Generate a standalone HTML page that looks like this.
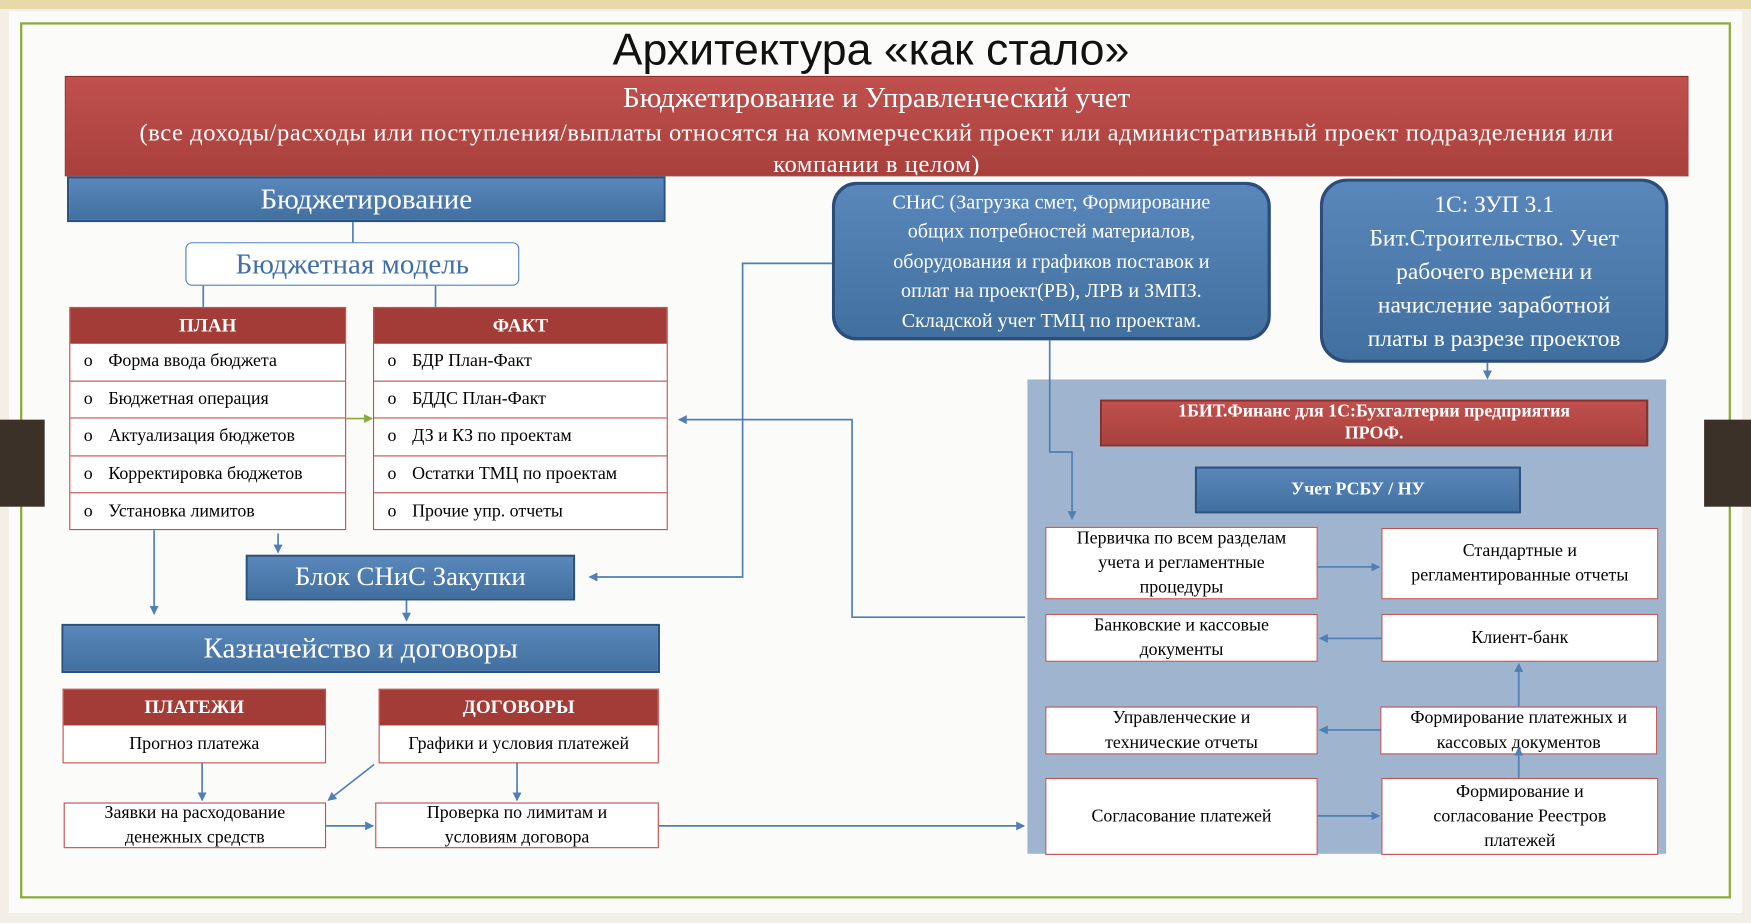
<!DOCTYPE html>
<html><head><meta charset="utf-8"><style>
html,body{margin:0;padding:0;width:1751px;height:923px;overflow:hidden;background:#f3efe6}
#w{position:absolute;left:0;top:0;width:1568px;height:827px;transform:scale(1.11671,1.11608);transform-origin:0 0;font-family:"Liberation Serif",serif}
.a{position:absolute;box-sizing:border-box}
.c{display:flex;align-items:center;justify-content:center;text-align:center}
.red{background:linear-gradient(#c0504d,#a9403c);color:#fff}
.blue{background:linear-gradient(#5a87bb,#41709f);border:2px solid #2c5282;color:#fff}
.tb{background:#fff;border:1.5px solid #c0504d}
.row{height:33.5px;border-bottom:1.5px solid #c0504d;display:flex;align-items:center;font-size:16px;padding-left:12px;box-sizing:border-box}
.row span{margin-right:14px}
.hd{background:#a33b37;color:#fff;font-weight:bold;font-size:17px;height:32px}
.wb{background:#fff;border:1.5px solid #c0504d;font-size:16px;line-height:22px}
</style></head><body><div id="w">
<div class="a" style="left:0;top:0;width:1568px;height:8px;background:#e8d9a8"></div>
<div class="a" style="left:8px;top:10px;width:1552px;height:808px;background:#fbfbfa"></div>
<div class="a" style="left:18px;top:20px;width:1532px;height:785px;border:2px solid #8aaa3a"></div>
<div class="a" style="left:0;top:376px;width:40px;height:78px;background:#3b3128"></div>
<div class="a" style="left:1526px;top:376px;width:42px;height:78px;background:#3b3128"></div>
<div class="a c" style="left:380px;top:20px;width:800px;height:50px;font-family:'Liberation Sans',sans-serif;font-size:40px;color:#111">Архитектура «как стало»</div>
<div class="a red" style="left:58px;top:68px;width:1454px;height:90px;border:1px solid #8e2f2b;text-align:center;overflow:hidden">
<div style="font-size:26px;margin-top:4px">Бюджетирование и Управленческий учет</div>
<div style="font-size:22px;line-height:28px;margin-top:2px;letter-spacing:0.5px;white-space:nowrap">(все доходы/расходы или поступления/выплаты относятся на коммерческий проект или административный проект подразделения или<br>компании в целом)</div></div>
<div class="a blue c" style="left:60px;top:158px;width:536px;height:41px;font-size:26px">Бюджетирование</div>
<div class="a c" style="left:166px;top:217px;width:299px;height:39px;border:1.5px solid #4f81bd;border-radius:6px;background:#fff;color:#3f6fa5;font-size:26px">Бюджетная модель</div>
<div class="a tb" style="left:62px;top:275px;width:248px;height:200px">
<div class="c hd">ПЛАН</div>
<div class="row"><span>o</span>Форма ввода бюджета</div>
<div class="row"><span>o</span>Бюджетная операция</div>
<div class="row"><span>o</span>Актуализация бюджетов</div>
<div class="row"><span>o</span>Корректировка бюджетов</div>
<div class="row" style="border:0"><span>o</span>Установка лимитов</div></div>
<div class="a tb" style="left:334px;top:275px;width:264px;height:200px">
<div class="c hd">ФАКТ</div>
<div class="row"><span>o</span>БДР План-Факт</div>
<div class="row"><span>o</span>БДДС План-Факт</div>
<div class="row"><span>o</span>ДЗ и КЗ по проектам</div>
<div class="row"><span>o</span>Остатки ТМЦ по проектам</div>
<div class="row" style="border:0"><span>o</span>Прочие упр. отчеты</div></div>
<div class="a blue c" style="left:745px;top:163px;width:393px;height:142px;border-radius:22px;border:3px solid #2c4d7a;font-size:18px;line-height:26.5px;padding:0 6px">СНиС (Загрузка смет, Формирование<br>общих потребностей материалов,<br>оборудования и графиков поставок и<br>оплат на проект(РВ), ЛРВ и ЗМПЗ.<br>Складской учет ТМЦ по проектам.</div>
<div class="a blue c" style="left:1182px;top:160px;width:312px;height:165px;border-radius:24px;border:3px solid #2c4d7a;font-size:21px;line-height:30px;padding:0 6px">1С: ЗУП 3.1<br>Бит.Строительство. Учет<br>рабочего времени и<br>начисление заработной<br>платы в разрезе проектов</div>
<div class="a" style="left:920px;top:340px;width:572px;height:425px;background:#9fb5cf"></div>
<div class="a red c" style="left:985px;top:358px;width:491px;height:42px;border:2px solid #8e2f2b;font-weight:bold;font-size:16px;line-height:20px">1БИТ.Финанс для 1С:Бухгалтерии предприятия<br>ПРОФ.</div>
<div class="a blue c" style="left:1070px;top:418px;width:292px;height:42px;font-weight:bold;font-size:16px">Учет РСБУ / НУ</div>
<div class="a wb c" style="left:936px;top:472px;width:244px;height:65px">Первичка по всем разделам<br>учета и регламентные<br>процедуры</div>
<div class="a wb c" style="left:1237px;top:473px;width:248px;height:64px">Стандартные и<br>регламентированные отчеты</div>
<div class="a wb c" style="left:936px;top:550px;width:244px;height:43px">Банковские и кассовые<br>документы</div>
<div class="a wb c" style="left:1237px;top:550px;width:248px;height:43px">Клиент-банк</div>
<div class="a wb c" style="left:936px;top:633px;width:244px;height:43px">Управленческие и<br>технические отчеты</div>
<div class="a wb c" style="left:1236px;top:633px;width:248px;height:43px">Формирование платежных и<br>кассовых документов</div>
<div class="a wb c" style="left:936px;top:697px;width:244px;height:69px">Согласование платежей</div>
<div class="a wb c" style="left:1237px;top:697px;width:248px;height:69px">Формирование и<br>согласование Реестров<br>платежей</div>
<div class="a blue c" style="left:220px;top:497px;width:295px;height:41px;font-size:24px">Блок СНиС Закупки</div>
<div class="a blue c" style="left:55px;top:559px;width:536px;height:44px;font-size:26px">Казначейство и договоры</div>
<div class="a tb" style="left:56px;top:617px;width:236px;height:67px"><div class="c hd">ПЛАТЕЖИ</div><div class="c" style="height:34px;font-size:16px">Прогноз платежа</div></div>
<div class="a tb" style="left:339px;top:617px;width:251px;height:67px"><div class="c hd">ДОГОВОРЫ</div><div class="c" style="height:34px;font-size:16px">Графики и условия платежей</div></div>
<div class="a wb c" style="left:57px;top:719px;width:235px;height:41px">Заявки на расходование<br>денежных средств</div>
<div class="a wb c" style="left:336px;top:719px;width:254px;height:41px">Проверка по лимитам и<br>условиям договора</div>
<svg class="a" style="left:0;top:0" width="1568" height="827">
<defs><marker id="m" markerWidth="8" markerHeight="8" refX="7" refY="4" orient="auto" markerUnits="userSpaceOnUse"><path d="M0,0L8,4L0,8z" fill="#4f7fb5"/></marker>
<marker id="g" markerWidth="8" markerHeight="8" refX="7" refY="4" orient="auto" markerUnits="userSpaceOnUse"><path d="M0,0L8,4L0,8z" fill="#8aaa3a"/></marker></defs>
<g stroke="#4f7fb5" stroke-width="1.5" fill="none">
<path d="M316,199V217M182,256V275M390,256V275"/>
<path d="M310,375H333" stroke="#8aaa3a" marker-end="url(#g)"/>
<path d="M918,553H763V376H608" marker-end="url(#m)"/>
<path d="M745,236H665V517H528" marker-end="url(#m)"/>
<path d="M940,305V405H960V465" marker-end="url(#m)"/>
<path d="M1332,325V339" marker-end="url(#m)"/>
<path d="M1180,508H1235" marker-end="url(#m)"/>
<path d="M1237,572H1182" marker-end="url(#m)"/>
<path d="M1237,654H1182" marker-end="url(#m)"/>
<path d="M1180,731H1235" marker-end="url(#m)"/>
<path d="M1360,633V595" marker-end="url(#m)"/>
<path d="M1360,697V670" marker-end="url(#m)"/>
<path d="M138,475V550" marker-end="url(#m)"/>
<path d="M249,478V495" marker-end="url(#m)"/>
<path d="M364,538V556" marker-end="url(#m)"/>
<path d="M181,684V717" marker-end="url(#m)"/>
<path d="M335,685L294,717" marker-end="url(#m)"/>
<path d="M463,684V717" marker-end="url(#m)"/>
<path d="M292,740H334" marker-end="url(#m)"/>
<path d="M590,740H917" marker-end="url(#m)"/>
</g></svg>
</div></body></html>
